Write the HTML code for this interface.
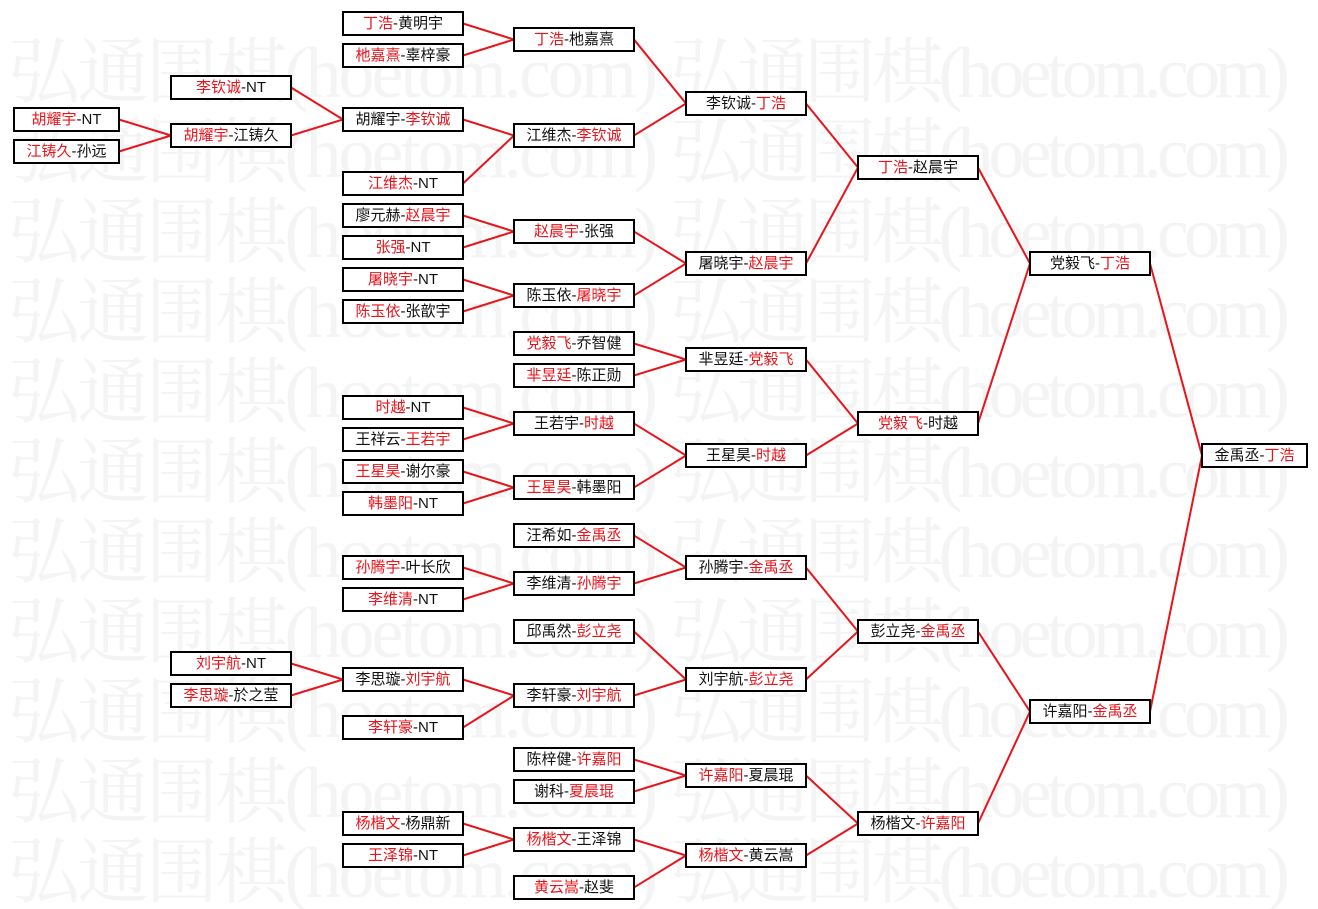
<!DOCTYPE html>
<html><head><meta charset="utf-8">
<style>
html,body{margin:0;padding:0;background:#fff;}
body{width:1318px;height:909px;position:relative;overflow:hidden;font-family:"Liberation Sans","Noto Sans CJK SC",sans-serif;}
.b{position:absolute;height:25px;box-sizing:border-box;border:2px solid #000;background:#fff;font-size:15px;line-height:21px;text-align:center;color:#111;white-space:nowrap;z-index:2;}
.r{color:#e8141c;}
.c0{left:13px;width:107px}.c1{left:170px;width:122px}.c2{left:342px;width:122px}.c3{left:513px;width:122px}
.c4{left:685px;width:122px}.c5{left:857px;width:122px}.c6{left:1029px;width:122px}.c7{left:1201px;width:107px}
svg{position:absolute;left:0;top:0}
#wm{z-index:0}#sv{z-index:1}
#wm text{font-family:"Liberation Serif","Noto Serif CJK SC",serif;font-size:72px;fill:#f4f4f4;}
</style></head><body>
<svg width="1318" height="909" id="wm">
<g>
<text x="8" y="97" textLength="650" lengthAdjust="spacing">弘通围棋(hoetom.com)</text><text x="670" y="97" textLength="620" lengthAdjust="spacing">弘通围棋(hoetom.com)</text>
<text x="8" y="177" textLength="650" lengthAdjust="spacing">弘通围棋(hoetom.com)</text><text x="670" y="177" textLength="620" lengthAdjust="spacing">弘通围棋(hoetom.com)</text>
<text x="8" y="257" textLength="650" lengthAdjust="spacing">弘通围棋(hoetom.com)</text><text x="670" y="257" textLength="620" lengthAdjust="spacing">弘通围棋(hoetom.com)</text>
<text x="8" y="337" textLength="650" lengthAdjust="spacing">弘通围棋(hoetom.com)</text><text x="670" y="337" textLength="620" lengthAdjust="spacing">弘通围棋(hoetom.com)</text>
<text x="8" y="417" textLength="650" lengthAdjust="spacing">弘通围棋(hoetom.com)</text><text x="670" y="417" textLength="620" lengthAdjust="spacing">弘通围棋(hoetom.com)</text>
<text x="8" y="497" textLength="650" lengthAdjust="spacing">弘通围棋(hoetom.com)</text><text x="670" y="497" textLength="620" lengthAdjust="spacing">弘通围棋(hoetom.com)</text>
<text x="8" y="577" textLength="650" lengthAdjust="spacing">弘通围棋(hoetom.com)</text><text x="670" y="577" textLength="620" lengthAdjust="spacing">弘通围棋(hoetom.com)</text>
<text x="8" y="657" textLength="650" lengthAdjust="spacing">弘通围棋(hoetom.com)</text><text x="670" y="657" textLength="620" lengthAdjust="spacing">弘通围棋(hoetom.com)</text>
<text x="8" y="737" textLength="650" lengthAdjust="spacing">弘通围棋(hoetom.com)</text><text x="670" y="737" textLength="620" lengthAdjust="spacing">弘通围棋(hoetom.com)</text>
<text x="8" y="817" textLength="650" lengthAdjust="spacing">弘通围棋(hoetom.com)</text><text x="670" y="817" textLength="620" lengthAdjust="spacing">弘通围棋(hoetom.com)</text>
<text x="8" y="897" textLength="650" lengthAdjust="spacing">弘通围棋(hoetom.com)</text><text x="670" y="897" textLength="620" lengthAdjust="spacing">弘通围棋(hoetom.com)</text>
</g>
</svg>

<svg width="1318" height="909" id="sv"></svg>

<div class="b c0" id="b0_107" style="top:107px"><span class="r">胡耀宇</span>-NT</div>
<div class="b c0" id="b0_139" style="top:139px"><span class="r">江铸久</span>-孙远</div>

<div class="b c1" id="b1_75" style="top:75px"><span class="r">李钦诚</span>-NT</div>
<div class="b c1" id="b1_123" style="top:123px"><span class="r">胡耀宇</span>-江铸久</div>
<div class="b c1" id="b1_651" style="top:651px"><span class="r">刘宇航</span>-NT</div>
<div class="b c1" id="b1_683" style="top:683px"><span class="r">李思璇</span>-於之莹</div>

<div class="b c2" id="b2_11" style="top:11px"><span class="r">丁浩</span>-黄明宇</div>
<div class="b c2" id="b2_43" style="top:43px"><span class="r">杝嘉熹</span>-辜梓豪</div>
<div class="b c2" id="b2_107" style="top:107px">胡耀宇-<span class="r">李钦诚</span></div>
<div class="b c2" id="b2_171" style="top:171px"><span class="r">江维杰</span>-NT</div>
<div class="b c2" id="b2_203" style="top:203px">廖元赫-<span class="r">赵晨宇</span></div>
<div class="b c2" id="b2_235" style="top:235px"><span class="r">张强</span>-NT</div>
<div class="b c2" id="b2_267" style="top:267px"><span class="r">屠晓宇</span>-NT</div>
<div class="b c2" id="b2_299" style="top:299px"><span class="r">陈玉依</span>-张歆宇</div>
<div class="b c2" id="b2_395" style="top:395px"><span class="r">时越</span>-NT</div>
<div class="b c2" id="b2_427" style="top:427px">王祥云-<span class="r">王若宇</span></div>
<div class="b c2" id="b2_459" style="top:459px"><span class="r">王星昊</span>-谢尔豪</div>
<div class="b c2" id="b2_491" style="top:491px"><span class="r">韩墨阳</span>-NT</div>
<div class="b c2" id="b2_555" style="top:555px"><span class="r">孙腾宇</span>-叶长欣</div>
<div class="b c2" id="b2_587" style="top:587px"><span class="r">李维清</span>-NT</div>
<div class="b c2" id="b2_667" style="top:667px">李思璇-<span class="r">刘宇航</span></div>
<div class="b c2" id="b2_715" style="top:715px"><span class="r">李轩豪</span>-NT</div>
<div class="b c2" id="b2_811" style="top:811px"><span class="r">杨楷文</span>-杨鼎新</div>
<div class="b c2" id="b2_843" style="top:843px"><span class="r">王泽锦</span>-NT</div>

<div class="b c3" id="b3_27" style="top:27px"><span class="r">丁浩</span>-杝嘉熹</div>
<div class="b c3" id="b3_123" style="top:123px">江维杰-<span class="r">李钦诚</span></div>
<div class="b c3" id="b3_219" style="top:219px"><span class="r">赵晨宇</span>-张强</div>
<div class="b c3" id="b3_283" style="top:283px">陈玉依-<span class="r">屠晓宇</span></div>
<div class="b c3" id="b3_331" style="top:331px"><span class="r">党毅飞</span>-乔智健</div>
<div class="b c3" id="b3_363" style="top:363px"><span class="r">芈昱廷</span>-陈正勋</div>
<div class="b c3" id="b3_411" style="top:411px">王若宇-<span class="r">时越</span></div>
<div class="b c3" id="b3_475" style="top:475px"><span class="r">王星昊</span>-韩墨阳</div>
<div class="b c3" id="b3_523" style="top:523px">汪希如-<span class="r">金禹丞</span></div>
<div class="b c3" id="b3_571" style="top:571px">李维清-<span class="r">孙腾宇</span></div>
<div class="b c3" id="b3_619" style="top:619px">邱禹然-<span class="r">彭立尧</span></div>
<div class="b c3" id="b3_683" style="top:683px">李轩豪-<span class="r">刘宇航</span></div>
<div class="b c3" id="b3_747" style="top:747px">陈梓健-<span class="r">许嘉阳</span></div>
<div class="b c3" id="b3_779" style="top:779px">谢科-<span class="r">夏晨琨</span></div>
<div class="b c3" id="b3_827" style="top:827px"><span class="r">杨楷文</span>-王泽锦</div>
<div class="b c3" id="b3_875" style="top:875px"><span class="r">黄云嵩</span>-赵斐</div>

<div class="b c4" id="b4_91" style="top:91px">李钦诚-<span class="r">丁浩</span></div>
<div class="b c4" id="b4_251" style="top:251px">屠晓宇-<span class="r">赵晨宇</span></div>
<div class="b c4" id="b4_347" style="top:347px">芈昱廷-<span class="r">党毅飞</span></div>
<div class="b c4" id="b4_443" style="top:443px">王星昊-<span class="r">时越</span></div>
<div class="b c4" id="b4_555" style="top:555px">孙腾宇-<span class="r">金禹丞</span></div>
<div class="b c4" id="b4_667" style="top:667px">刘宇航-<span class="r">彭立尧</span></div>
<div class="b c4" id="b4_763" style="top:763px"><span class="r">许嘉阳</span>-夏晨琨</div>
<div class="b c4" id="b4_843" style="top:843px"><span class="r">杨楷文</span>-黄云嵩</div>

<div class="b c5" id="b5_155" style="top:155px"><span class="r">丁浩</span>-赵晨宇</div>
<div class="b c5" id="b5_411" style="top:411px"><span class="r">党毅飞</span>-时越</div>
<div class="b c5" id="b5_619" style="top:619px">彭立尧-<span class="r">金禹丞</span></div>
<div class="b c5" id="b5_811" style="top:811px">杨楷文-<span class="r">许嘉阳</span></div>

<div class="b c6" id="b6_251" style="top:251px">党毅飞-<span class="r">丁浩</span></div>
<div class="b c6" id="b6_699" style="top:699px">许嘉阳-<span class="r">金禹丞</span></div>

<div class="b c7" id="b7_443" style="top:443px">金禹丞-<span class="r">丁浩</span></div>

<script>
var E=[
["b0_107","b1_123"],["b0_139","b1_123"],
["b1_75","b2_107"],["b1_123","b2_107"],
["b2_11","b3_27"],["b2_43","b3_27"],
["b2_107","b3_123"],["b2_171","b3_123"],
["b3_27","b4_91"],["b3_123","b4_91"],
["b2_203","b3_219"],["b2_235","b3_219"],
["b2_267","b3_283"],["b2_299","b3_283"],
["b3_219","b4_251"],["b3_283","b4_251"],
["b4_91","b5_155"],["b4_251","b5_155"],
["b3_331","b4_347"],["b3_363","b4_347"],
["b2_395","b3_411"],["b2_427","b3_411"],
["b2_459","b3_475"],["b2_491","b3_475"],
["b3_411","b4_443"],["b3_475","b4_443"],
["b4_347","b5_411"],["b4_443","b5_411"],
["b5_155","b6_251"],["b5_411","b6_251"],
["b2_555","b3_571"],["b2_587","b3_571"],
["b3_523","b4_555"],["b3_571","b4_555"],
["b1_651","b2_667"],["b1_683","b2_667"],
["b2_667","b3_683"],["b2_715","b3_683"],
["b3_619","b4_667"],["b3_683","b4_667"],
["b4_555","b5_619"],["b4_667","b5_619"],
["b3_747","b4_763"],["b3_779","b4_763"],
["b2_811","b3_827"],["b2_843","b3_827"],
["b3_827","b4_843"],["b3_875","b4_843"],
["b4_763","b5_811"],["b4_843","b5_811"],
["b5_619","b6_699"],["b5_811","b6_699"],
["b6_251","b7_443"],["b6_699","b7_443"]];
var sv=document.getElementById("sv"),h="";
E.forEach(function(e){var a=document.getElementById(e[0]),b=document.getElementById(e[1]);
var x1=a.offsetLeft+a.offsetWidth-1,y1=a.offsetTop+12.5,x2=b.offsetLeft+1,y2=b.offsetTop+12.5;
h+='<line x1="'+x1+'" y1="'+y1+'" x2="'+x2+'" y2="'+y2+'" stroke="#e8141c" stroke-width="2"/>';});
sv.innerHTML=h;
</script>
</body></html>
